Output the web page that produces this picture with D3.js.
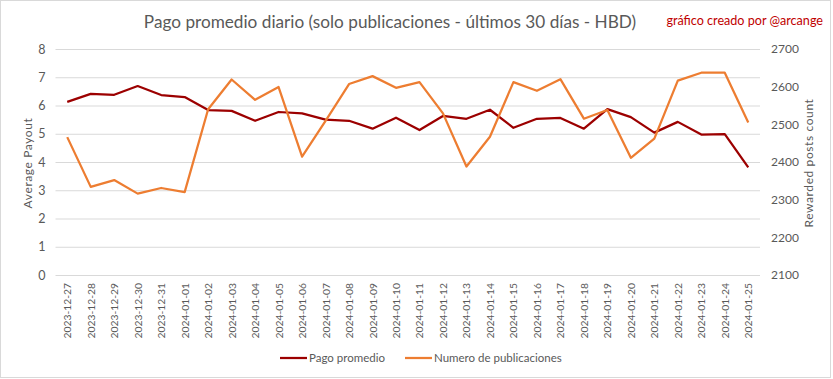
<!DOCTYPE html>
<html><head><meta charset="utf-8">
<script src="https://cdn.jsdelivr.net/npm/d3@7"></script>
<style>body{margin:0;background:#fff}svg{display:block}</style>
</head><body>
<script>
const dates = ["2023-12-27","2023-12-28","2023-12-29","2023-12-30","2023-12-31","2024-01-01","2024-01-02","2024-01-03","2024-01-04","2024-01-05","2024-01-06","2024-01-07","2024-01-08","2024-01-09","2024-01-10","2024-01-11","2024-01-12","2024-01-13","2024-01-14","2024-01-15","2024-01-16","2024-01-17","2024-01-18","2024-01-19","2024-01-20","2024-01-21","2024-01-22","2024-01-23","2024-01-24","2024-01-25"];
const pagoPromedio = [6.13,6.41,6.38,6.69,6.37,6.30,5.84,5.81,5.46,5.77,5.72,5.50,5.46,5.18,5.57,5.13,5.63,5.53,5.85,5.21,5.53,5.56,5.18,5.87,5.59,5.04,5.42,4.97,4.99,3.81];
const numeroPublicaciones = [2466,2334,2352,2316,2331,2320,2540,2619,2565,2599,2414,2509,2607,2628,2597,2612,2529,2388,2467,2612,2589,2620,2515,2538,2411,2462,2616,2637,2637,2505];
const leftTicks = [0,1,2,3,4,5,6,7,8];
const rightTicks = [2100,2200,2300,2400,2500,2600,2700];

const W = 833, H = 379;
const svg = d3.select("body").append("svg").attr("width", W).attr("height", H);
const font = "Lato, 'Noto Sans', sans-serif";
const grey = "#595959";

svg.append("rect").attr("x",0.5).attr("y",0.5).attr("width",830).attr("height",377)
  .attr("fill","#fff").attr("stroke","#d9d9d9");

const x = d3.scaleBand().domain(dates).range([55.5, 760]).padding(0);
const xc = d => x(d) + x.bandwidth()/2;
const yL = d3.scaleLinear().domain([0,8]).range([275,49]);
const yR = d3.scaleLinear().domain([2100,2700]).range([275,49]);

// gridlines
const gl = d3.axisLeft(yL).tickValues(leftTicks).tickSize(-(760-55.5)).tickFormat("");
const g = svg.append("g").attr("transform","translate(55.5,0)").call(gl);
g.select(".domain").remove();
g.selectAll("line").attr("stroke","#d9d9d9").attr("stroke-width",1);

// left axis labels
const la = svg.append("g").attr("transform","translate(55.5,0)")
  .call(d3.axisLeft(yL).tickValues(leftTicks).tickSize(0).tickPadding(10));
la.select(".domain").remove();
la.selectAll("text").attr("font-family",font).attr("font-size",12.5).attr("fill",grey);

// right axis labels
const ra = svg.append("g").attr("transform","translate(760,0)")
  .call(d3.axisRight(yR).tickValues(rightTicks).tickFormat(d3.format("d")).tickSize(0).tickPadding(11));
ra.select(".domain").remove();
ra.selectAll("text").attr("font-family",font).attr("font-size",12).attr("fill",grey);

// x axis labels
const xa = svg.append("g").attr("transform","translate(0,275)")
  .call(d3.axisBottom(x).tickSize(0).tickPadding(0));
xa.select(".domain").remove();
xa.selectAll("text").attr("font-family",font).attr("font-size",10.3).attr("fill",grey)
  .attr("text-anchor","end").attr("dy",null).attr("y",0)
  .attr("transform","translate(4,8) rotate(-90)");

// lines
const lineL = d3.line().x((d,i)=>xc(dates[i])).y(d=>yL(d));
const lineR = d3.line().x((d,i)=>xc(dates[i])).y(d=>yR(d));
svg.append("path").datum(pagoPromedio).attr("d",lineL).attr("fill","none")
  .attr("stroke","#9c0000").attr("stroke-width",2.25).attr("stroke-linejoin","round");
svg.append("path").datum(numeroPublicaciones).attr("d",lineR).attr("fill","none")
  .attr("stroke","#ed7d31").attr("stroke-width",2.25).attr("stroke-linejoin","round");

// title
svg.append("text").attr("x",390).attr("y",28).attr("text-anchor","middle")
  .attr("font-family",font).attr("font-size",17.2).attr("fill",grey)
  .text("Pago promedio diario (solo publicaciones - últimos 30 días - HBD)");
svg.append("text").attr("x",823).attr("y",25).attr("text-anchor","end")
  .attr("font-family",font).attr("font-size",12.6).attr("fill","#c00000")
  .text("gráfico creado por @arcange");

// axis titles
svg.append("text").attr("transform","translate(32,163) rotate(-90)").attr("text-anchor","middle")
  .attr("font-family",font).attr("font-size",12).attr("fill",grey).attr("letter-spacing",0.6)
  .text("Average Payout");
svg.append("text").attr("transform","translate(813,163) rotate(-90)").attr("text-anchor","middle")
  .attr("font-family",font).attr("font-size",12).attr("fill",grey).attr("letter-spacing",0.6)
  .text("Rewarded posts count");

// legend
const legend = [{name:"Pago promedio", c:"#9c0000", x:280},{name:"Numero de publicaciones", c:"#ed7d31", x:405}];
legend.forEach(l=>{
  svg.append("line").attr("x1",l.x).attr("x2",l.x+27).attr("y1",358).attr("y2",358)
    .attr("stroke",l.c).attr("stroke-width",2.25);
  svg.append("text").attr("x",l.x+29).attr("y",362).attr("font-family",font)
    .attr("font-size",11.5).attr("fill",grey).text(l.name);
});
</script>
</body></html>
